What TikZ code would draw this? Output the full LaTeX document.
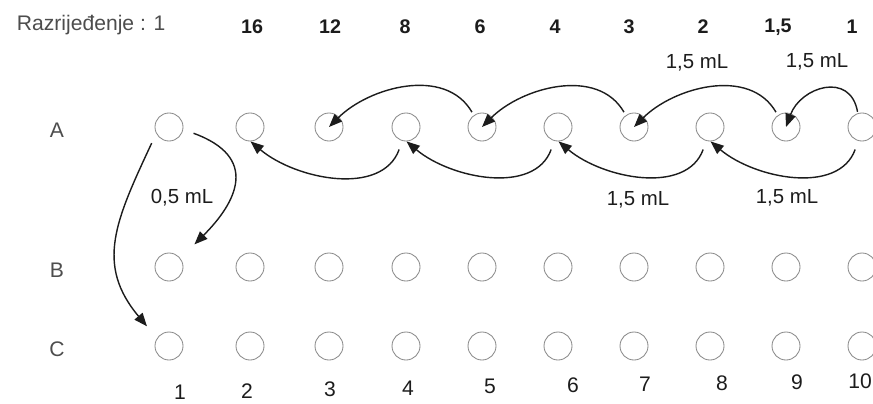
\documentclass[tikz,border=0pt]{standalone}
\usepackage{fontspec}
\setmainfont{Liberation Sans}
\usepackage{xcolor}
\usepackage{tikz}
\usetikzlibrary{arrows.meta}
\definecolor{ink}{HTML}{1C1C1C}
\definecolor{rim}{HTML}{8A8A8A}
\definecolor{grey}{HTML}{4D4D4D}

\begin{document}
\begin{tikzpicture}[
  x=0.025cm, y=0.025cm,
  well/.style={circle, draw=rim, line width=0.6pt, minimum size=0.7cm, inner sep=0pt},
  num/.style={font=\bfseries\fontsize{14}{16}\selectfont, text=ink},
  col/.style={font=\fontsize{15}{17}\selectfont, text=ink},
  row/.style={font=\fontsize{15}{17}\selectfont, text=grey},
  vol/.style={font=\fontsize{14.5}{17}\selectfont, text=ink},
  arr/.style={-{Triangle[length=3.3mm,width=2.6mm]}, line width=1pt, draw=ink}
]
\useasboundingbox (0,0) rectangle (873,403);
\node[row, anchor=west] (title) at (12,378) {Razrijeđenje : 1};
\foreach \x/\t [count=\k] in {252/16,330/12,405/8,480/6,555/4,629/3,703/2,778/{1,5},852/1}
  \node[num] (h\k) at (\x,376) {\t};
\foreach \r/\y in {A/276,B/136,C/57} {
  \node[row] (l\r) at (57,\y-3) {\r};
  \foreach \i/\x in {1/169,2/250,3/329,4/406,5/482,6/558,7/634,8/710,9/786,10/862}
    \node[well] (\r\i) at (\x,\y) {};
}
\foreach \i/\x/\y in {1/180/11,2/247/12,3/330/14,4/408/15,5/490/17,6/573/18,7/645/19,8/722/20,9/797/21,10/860/22}
  \node[col] (n\i) at (\x,\y) {\i};
\draw[arr, shorten <=1pt] (A10.107) to[out=100, in=70, looseness=1.5] (A9.center);
\foreach \i/\j in {9/7,7/5,5/3}
  \draw[arr, shorten <=2.5pt] (A\i.125) to[out=120, in=45] (A\j.center);
\foreach \i/\j in {10/8,8/6,6/4,4/2}
  \draw[arr, shorten <=6.5pt] (A\i.-105) to[out=-110, in=-40] (A\j.-88);
\draw[arr, shorten <=7.8pt, shorten >=14pt] (A1.-10) to[out=-20, in=45, looseness=1.6] (B1.37);
\draw[arr, shorten <=7.5pt, shorten >=11pt] (A1.-153) to[out=-115, in=130, looseness=1.2] (C1.147);
\node[vol] (v1) at (697,340) {1,5 mL};
\node[vol] (v2) at (817,341) {1,5 mL};
\node[vol] (v3) at (638,203) {1,5 mL};
\node[vol] (v4) at (787,205) {1,5 mL};
\node[vol] (v5) at (182,205) {0,5 mL};
\end{tikzpicture}
\end{document}
